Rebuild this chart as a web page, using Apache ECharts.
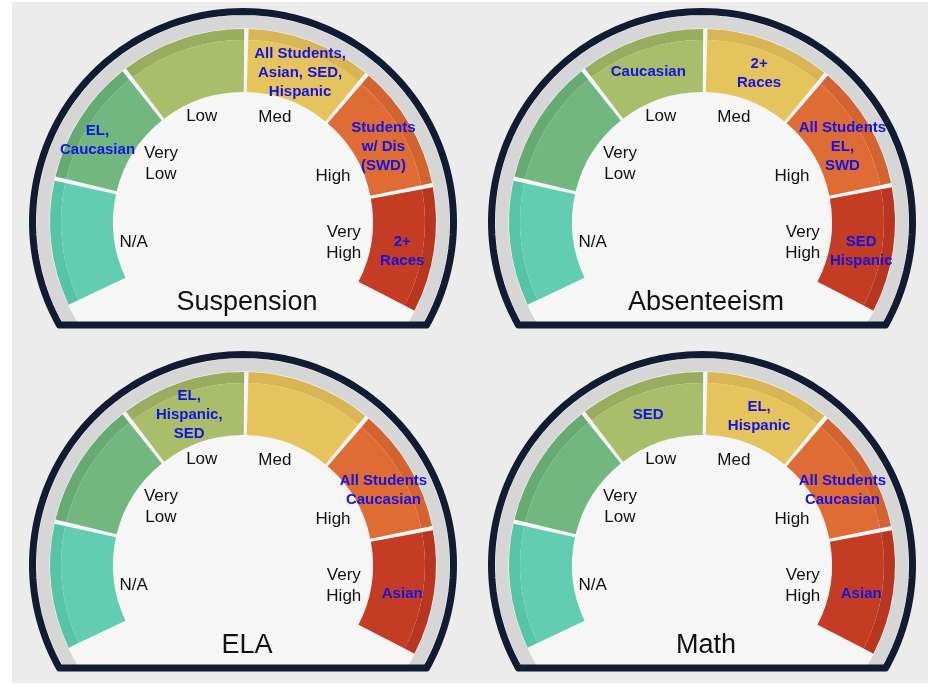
<!DOCTYPE html>
<html>
<head>
<meta charset="utf-8">
<script src="https://cdn.jsdelivr.net/npm/echarts@6/dist/echarts.min.js"></script>
<style>
  html, body { margin: 0; padding: 0; background: #ffffff; }
  #chart { width: 930px; height: 685px; }
</style>
</head>
<body>
<div id="chart"></div>
<script>
// levels shown on every dial, left to right
var levels = ['N/A', 'Very\nLow', 'Low', 'Med', 'High', 'Very\nHigh'];
var segmentValues = [1, 1, 1, 1, 1, 1];   // equal width segments
var gaugeTitles = ['Suspension', 'Absenteeism', 'ELA', 'Math'];

// student groups placed in each level
var suspensionGroups = ['', 'EL,\nCaucasian', '', 'All Students,\nAsian, SED,\nHispanic', 'Students\nw/ Dis\n(SWD)', '2+\nRaces'];
var absenteeismGroups = ['', '', 'Caucasian', '2+\nRaces', 'All Students\nEL,\nSWD', 'SED\nHispanic'];
var elaGroups = ['', '', 'EL,\nHispanic,\nSED', '', 'All Students\nCaucasian', 'Asian'];
var mathGroups = ['', '', 'SED', 'EL,\nHispanic', 'All Students\nCaucasian', 'Asian'];
var allGroups = [suspensionGroups, absenteeismGroups, elaGroups, mathGroups];

var segColors = ['#62cdb0', '#72b77f', '#a9bd6b', '#e6c45d', '#e06c35', '#c53c24'];
var shadeColors = ['#59c3a6', '#67aa74', '#9aad5f', '#d8b555', '#d46332', '#b8361f'];

// layout
var centers = [[243, 222], [702, 222], [243, 565], [702, 565]];
var startAngle = 206, endAngle = -28;
var innerR = 130, outerR = 193, shadeR = 182;
var frameR = 210.5, bandR = 200, chord = 103;
// small nudges of the labels so they sit like the original
var levelLabelOffsets = [[-2, 8], [9, 0], [-7, -3], [-6, -4], [-3, 9], [-6, 5]];
var groupLabelOffsets = [[0, 6], [-8, 6], [-2, 4], [0, 4], [0, 8], [-2, 5]];

var segAngle = (startAngle - endAngle) / segmentValues.length;
var fillerValue = (360 - (startAngle - endAngle)) / segAngle;

var chart = echarts.init(document.getElementById('chart'));

function arcPoints(cx, cy, r) {
  var t = Math.asin(chord / r);
  var pts = [];
  for (var i = 0; i <= 120; i++) {
    var a = -t + (Math.PI + 2 * t) * i / 120;
    pts.push([cx + r * Math.cos(a), cy - r * Math.sin(a)]);
  }
  return pts;
}

function pieData(colors, offsets) {
  var d = segmentValues.map(function (v, i) {
    var item = { value: v, name: levels[i], itemStyle: { color: colors ? colors[i] : 'rgba(0,0,0,0)' } };
    if (offsets) item.label = { offset: offsets[i] };
    return item;
  });
  d.push({ value: fillerValue, name: '', itemStyle: { color: 'rgba(0,0,0,0)' }, label: { show: false } });
  return d;
}

var graphics = [{
  type: 'rect', z: 0, silent: true,
  shape: { x: 12, y: 2, width: 916, height: 681 },
  style: { fill: '#ececec' }
}];
var series = [];
var titles = [];

centers.forEach(function (c, g) {
  var cx = c[0], cy = c[1];
  graphics.push({ type: 'polygon', z: 1, silent: true, shape: { points: arcPoints(cx, cy, frameR) }, style: { fill: '#f6f6f6' } });
  graphics.push({ type: 'polyline', z: 2, silent: true, shape: { points: arcPoints(cx, cy, bandR) }, style: { stroke: '#d6d6d6', lineWidth: 13, fill: null } });
  graphics.push({ type: 'polygon', z: 3, silent: true, shape: { points: arcPoints(cx, cy, frameR) }, style: { fill: null, stroke: '#111b31', lineWidth: 7, lineJoin: 'round' } });

  var groups = allGroups[g];
  // darker outer band of each segment
  series.push({
    type: 'pie', z: 10, silent: true, center: [cx, cy], radius: [shadeR, outerR],
    startAngle: startAngle, padAngle: 1.3, avoidLabelOverlap: false,
    label: { show: false }, labelLine: { show: false }, emphasis: { disabled: true },
    data: pieData(shadeColors)
  });
  // coloured segments
  series.push({
    type: 'pie', z: 11, silent: true, center: [cx, cy], radius: [innerR, shadeR],
    startAngle: startAngle, padAngle: 1.3, avoidLabelOverlap: false,
    label: { show: false }, labelLine: { show: false }, emphasis: { disabled: true },
    data: pieData(segColors)
  });
  // student groups on the segments
  series.push({
    type: 'pie', z: 12, silent: true, center: [cx, cy], radius: [innerR, 190],
    startAngle: startAngle, avoidLabelOverlap: false,
    labelLine: { show: false }, emphasis: { disabled: true },
    labelLayout: { hideOverlap: false },
    label: {
      show: true, position: 'inside',
      fontFamily: 'Liberation Sans, Arial, sans-serif', fontSize: 15, fontWeight: 'bold',
      lineHeight: 19, color: '#1414e0',
      formatter: function (p) { return groups[p.dataIndex] || ''; }
    },
    data: pieData(null, groupLabelOffsets)
  });
  // level names inside the dial
  series.push({
    type: 'pie', z: 12, silent: true, center: [cx, cy], radius: [82, 128],
    startAngle: startAngle, avoidLabelOverlap: false,
    labelLine: { show: false }, emphasis: { disabled: true },
    labelLayout: { hideOverlap: false },
    label: {
      show: true, position: 'inside',
      fontFamily: 'Liberation Sans, Arial, sans-serif', fontSize: 17,
      lineHeight: 21, color: '#111111',
      formatter: function (p) { return levels[p.dataIndex] || ''; }
    },
    data: pieData(null, levelLabelOffsets)
  });

  titles.push({
    text: gaugeTitles[g], left: cx - 1, top: cy + 62, textAlign: 'center',
    textStyle: { fontFamily: 'Liberation Sans, Arial, sans-serif', fontSize: 27, fontWeight: 'normal', color: '#111111' }
  });
});

chart.setOption({
  animation: false,
  title: titles,
  graphic: graphics,
  series: series
});
</script>
</body>
</html>
